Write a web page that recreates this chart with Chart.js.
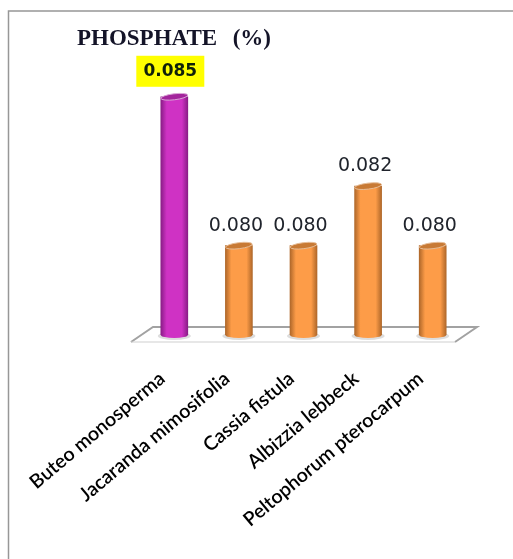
<!DOCTYPE html>
<html>
<head>
<meta charset="utf-8">
<title>Phosphate</title>
<script src="https://cdn.jsdelivr.net/npm/chart.js@4"></script>
<style>
  html, body { margin: 0; padding: 0; background: #fff; }
  #phosphateChart { display: block; }
</style>
</head>
<body>
<canvas id="phosphateChart" width="513" height="559"></canvas>
<script>
const species = ['Buteo monosperma', 'Jacaranda mimosifolia', 'Cassia fistula', 'Albizzia lebbeck', 'Peltophorum pterocarpum'];
const phosphate = [0.085, 0.080, 0.080, 0.082, 0.080];
const valueLabels = ['0.085', '0.080', '0.080', '0.082', '0.080'];
const chartTitle = 'PHOSPHATE  (%)';
const axisMin = 0.077;
const axisMax = 0.086;
const barWidth = 27;

// purple for the highest value, orange for the rest
function barShades(i) {
    return i === 0
        ? { edge: '#8a1d87', mid: '#cf32c4', top: '#a3259c', rim: '#d9a5d6' }
        : { edge: '#b0682a', mid: '#fd9c48', top: '#c87a35', rim: '#e6bd98' };
}

function cylinderGradient(chart, i) {
    const shade = barShades(i);
    const left = chart.scales.x.getPixelForValue(i) - barWidth / 2;
    // scales have no pixels yet on the first options pass
    if (!Number.isFinite(left)) return shade.mid;
    const g = chart.ctx.createLinearGradient(left, 0, left + barWidth, 0);
    g.addColorStop(0, shade.edge);
    g.addColorStop(0.22, shade.mid);
    g.addColorStop(0.78, shade.mid);
    g.addColorStop(1, shade.edge);
    return g;
}

const cylinderPlugin = {
    id: 'cylinders',
    beforeDatasetsDraw(chart) {
        // floor plane under the bars
        const { ctx, chartArea: a } = chart;
        ctx.save();
        ctx.strokeStyle = '#a2a2a2';
        ctx.lineWidth = 2;
        ctx.beginPath();
        ctx.moveTo(a.left - 11, a.bottom + 7);
        ctx.lineTo(a.left + 11, a.bottom - 8);
        ctx.lineTo(a.right + 12, a.bottom - 8);
        ctx.lineTo(a.right - 10, a.bottom + 7);
        ctx.stroke();
        ctx.strokeStyle = '#cfcfcf';
        ctx.lineWidth = 1;
        ctx.beginPath();
        ctx.moveTo(a.left - 11, a.bottom + 7);
        ctx.lineTo(a.right - 10, a.bottom + 7);
        ctx.stroke();

        // soft contact shadow and rounded foot of each cylinder
        chart.getDatasetMeta(0).data.forEach((el, i) => {
            ctx.fillStyle = 'rgba(120,120,120,0.25)';
            ctx.beginPath();
            ctx.ellipse(el.x, el.base + 1, barWidth / 2 + 3, 4, 0, 0, Math.PI * 2);
            ctx.fill();
            ctx.fillStyle = cylinderGradient(chart, i);
            ctx.beginPath();
            ctx.ellipse(el.x, el.base, barWidth / 2, 3, 0, 0, Math.PI * 2);
            ctx.fill();
        });
        ctx.restore();
    },
    afterDatasetsDraw(chart) {
        const { ctx } = chart;
        chart.getDatasetMeta(0).data.forEach((el, i) => {
            const shade = barShades(i);
            ctx.save();
            ctx.fillStyle = shade.top;
            ctx.strokeStyle = shade.rim;
            ctx.lineWidth = 1;
            ctx.beginPath();
            ctx.ellipse(el.x, el.y, barWidth / 2, 3, -0.12, 0, Math.PI * 2);
            ctx.fill();
            ctx.stroke();
            ctx.restore();
        });
    },
    afterDraw(chart) {
        const { ctx } = chart;
        // frame: left and top edges only
        ctx.save();
        ctx.strokeStyle = '#979797';
        ctx.lineWidth = 1.5;
        ctx.beginPath();
        ctx.moveTo(8.5, 559);
        ctx.lineTo(8.5, 11);
        ctx.lineTo(513, 11);
        ctx.stroke();

        ctx.fillStyle = '#141428';
        ctx.font = 'bold 23px "Liberation Serif"';
        ctx.wordSpacing = '2px';
        ctx.textAlign = 'left';
        ctx.textBaseline = 'middle';
        ctx.fillText(chartTitle, 77, 39);
        ctx.wordSpacing = '0px';

        // value labels above the bars
        ctx.textAlign = 'center';
        chart.getDatasetMeta(0).data.forEach((el, i) => {
            if (i === 0) {
                ctx.fillStyle = '#ffff00';
                ctx.fillRect(el.x - 38, el.y - 41, 68, 31);
                ctx.fillStyle = '#10200a';
                ctx.font = 'bold 17px "DejaVu Sans"';
                ctx.fillText(valueLabels[i], el.x - 4, el.y - 25);
            } else {
                ctx.fillStyle = '#20242c';
                ctx.font = '19px "DejaVu Sans"';
                ctx.fillText(valueLabels[i], el.x - 3, el.y - 20);
            }
        });
        ctx.restore();
    }
};

new Chart(document.getElementById('phosphateChart'), {
    type: 'bar',
    data: {
        labels: species,
        datasets: [{
            data: phosphate,
            base: axisMin,
            backgroundColor: ctx => cylinderGradient(ctx.chart, ctx.dataIndex),
            borderWidth: 0,
            barThickness: barWidth
        }]
    },
    options: {
        responsive: false,
        animation: false,
        layout: { padding: { left: 142, right: 48, top: 67, bottom: 0 } },
        plugins: {
            legend: { display: false },
            tooltip: { enabled: false },
            title: { display: false }
        },
        scales: {
            x: {
                grid: { display: false },
                border: { display: false },
                afterFit(scale) { scale.height = 224; },
                ticks: {
                    autoSkip: false,
                    minRotation: 40,
                    maxRotation: 40,
                    padding: 24,
                    labelOffset: -12,
                    color: '#000000',
                    font: { family: 'Lato', size: 19.5, weight: '600' }
                }
            },
            y: {
                display: false,
                min: axisMin,
                max: axisMax
            }
        }
    },
    plugins: [cylinderPlugin]
});
</script>
</body>
</html>
